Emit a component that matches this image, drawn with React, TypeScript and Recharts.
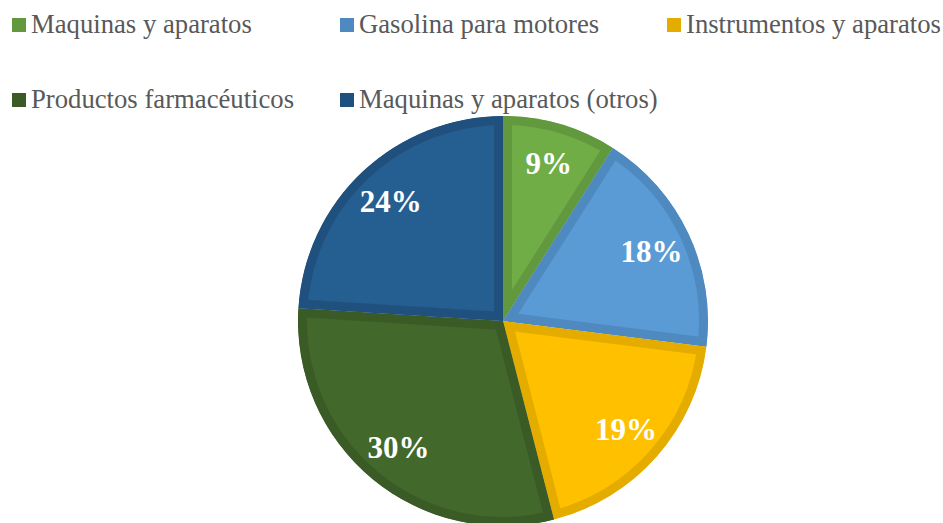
import { PieChart, Pie, Cell, Sector } from 'recharts';

const categories = [
  'Maquinas y aparatos',
  'Gasolina para motores',
  'Instrumentos y aparatos',
  'Productos farmacéuticos',
  'Maquinas y aparatos (otros)',
];
const shares = [9, 18, 19, 30, 24];

const fills = ['#70AD47', '#5B9BD5', '#FFC000', '#43682B', '#255E91'];
const borders = ['#62993E', '#4E89BF', '#E5AC00', '#3A5B25', '#20517E'];

const data = categories.map((name, i) => ({ name, value: shares[i] }));

const RAD = Math.PI / 180;
const BORDER = 9;
const SERIF = 'Liberation Serif';

// inner border: stroke twice as wide, clipped to the sector itself
const InsetSector = (props: any) => {
  const id = `clip-${Math.round(props.startAngle * 100)}`;
  return (
    <g>
      <defs>
        <clipPath id={id}>
          <Sector {...props} stroke="none" />
        </clipPath>
      </defs>
      <Sector
        {...props}
        fill={props.fill}
        stroke={props.stroke}
        strokeWidth={BORDER * 2}
        clipPath={`url(#${id})`}
      />
    </g>
  );
};

const renderLabel = (p: any) => {
  const r = p.outerRadius * 0.8;
  const x = p.cx + r * Math.cos(-p.midAngle * RAD);
  const y = p.cy + r * Math.sin(-p.midAngle * RAD);
  return (
    <text
      x={x}
      y={y}
      fill="#fff"
      textAnchor="middle"
      dominantBaseline="central"
      style={{ fontFamily: SERIF, fontWeight: 'bold', fontSize: 31 }}
    >
      {`${p.value}%`}
    </text>
  );
};

const legendPos = [
  { left: 12, top: 18 },
  { left: 340, top: 18 },
  { left: 667, top: 18 },
  { left: 12, top: 93 },
  { left: 340, top: 93 },
];

export default function App() {
  return (
    <div style={{ position: 'absolute', left: 0, top: 0, width: 943, height: 523, background: '#fff' }}>
      <PieChart width={943} height={523} margin={{ top: 0, right: 0, bottom: 0, left: 0 }}>
        <Pie
          data={data}
          dataKey="value"
          nameKey="name"
          cx={503}
          cy={321}
          outerRadius={205}
          startAngle={90}
          endAngle={-270}
          stroke="none"
          shape={InsetSector}
          label={renderLabel}
          labelLine={false}
          isAnimationActive={false}
        >
          {data.map((d, i) => (
            <Cell key={d.name} fill={fills[i]} stroke={borders[i]} />
          ))}
        </Pie>
      </PieChart>
      {categories.map((name, i) => (
        <div
          key={name}
          style={{
            position: 'absolute',
            left: legendPos[i].left,
            top: legendPos[i].top,
            display: 'flex',
            alignItems: 'center',
            height: 14,
            whiteSpace: 'nowrap',
          }}
        >
          <span style={{ width: 14, height: 14, background: borders[i], display: 'inline-block' }} />
          <span
            style={{
              marginLeft: 5,
              fontFamily: SERIF,
              fontSize: 26.7,
              color: '#595959',
              lineHeight: '14px',
              position: 'relative',
              top: -1,
            }}
          >
            {name}
          </span>
        </div>
      ))}
    </div>
  );
}
